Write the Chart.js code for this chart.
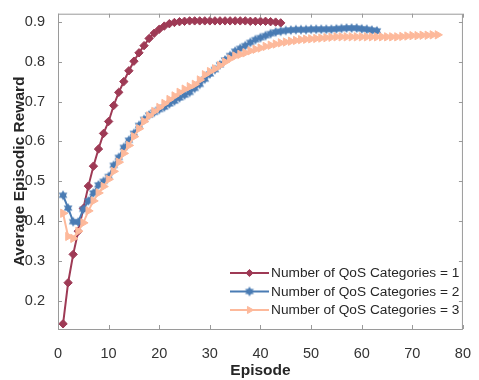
<!DOCTYPE html>
<html>
<head>
<meta charset="utf-8">
<script src="https://cdn.jsdelivr.net/npm/chart.js@4.4.1/dist/chart.umd.min.js"></script>
<style>
  html, body { margin: 0; padding: 0; background: #fff; }
  #wrap { width: 479px; height: 380px; }
</style>
</head>
<body>
<div id="wrap"><canvas id="chart" width="479" height="380"></canvas></div>
<script>
// values
const reward1 = [0.143, 0.246, 0.317, 0.375, 0.432, 0.488, 0.538, 0.581, 0.620, 0.650,
  0.690, 0.723, 0.750, 0.777, 0.801, 0.822, 0.840, 0.858, 0.871, 0.881,
  0.889, 0.895, 0.898, 0.900, 0.901, 0.902, 0.902, 0.902, 0.902, 0.902,
  0.902, 0.902, 0.902, 0.902, 0.902, 0.902, 0.902, 0.901, 0.901, 0.901,
  0.901, 0.900, 0.899, 0.897];
const reward2 = [0.465, 0.433, 0.399, 0.398, 0.430, 0.451, 0.471, 0.491, 0.500, 0.512,
  0.540, 0.560, 0.585, 0.603, 0.620, 0.640, 0.655, 0.666, 0.673, 0.680,
  0.686, 0.694, 0.701, 0.709, 0.716, 0.723, 0.733, 0.743, 0.756, 0.769,
  0.780, 0.792, 0.804, 0.815, 0.826, 0.833, 0.840, 0.848, 0.855, 0.860,
  0.865, 0.870, 0.874, 0.876, 0.878, 0.879, 0.880, 0.880, 0.880, 0.881,
  0.881, 0.881, 0.881, 0.881, 0.882, 0.883, 0.884, 0.884, 0.884, 0.882,
  0.881, 0.879, 0.877];
const reward3 = [0.420, 0.362, 0.357, 0.375, 0.396, 0.426, 0.451, 0.471, 0.487, 0.505,
  0.525, 0.548, 0.570, 0.590, 0.612, 0.632, 0.650, 0.664, 0.675, 0.685,
  0.695, 0.705, 0.714, 0.723, 0.731, 0.737, 0.743, 0.754, 0.767, 0.775,
  0.782, 0.790, 0.799, 0.807, 0.814, 0.818, 0.822, 0.827, 0.831, 0.834,
  0.838, 0.841, 0.844, 0.847, 0.849, 0.851, 0.853, 0.855, 0.856, 0.857,
  0.858, 0.859, 0.860, 0.861, 0.862, 0.862, 0.862, 0.862, 0.862, 0.862,
  0.862, 0.862, 0.862, 0.862, 0.862, 0.862, 0.862, 0.863, 0.864, 0.865,
  0.865, 0.866, 0.866, 0.867, 0.867];
const seriesNames = ['Number of QoS Categories = 1', 'Number of QoS Categories = 2', 'Number of QoS Categories = 3'];
const xTicks = [0, 10, 20, 30, 40, 50, 60, 70, 80];
const yTicks = [0.2, 0.3, 0.4, 0.5, 0.6, 0.7, 0.8, 0.9];

const RED = '#9e3a55';
const BLUE = '#4a7cb4';
const PEACH = '#fdb99b';
const AXIS = '#9a9a9a';
const FONT = "'Liberation Sans', Arial, Helvetica, sans-serif";

// six pointed star marker
function hexagram(color, r) {
  const c = document.createElement('canvas');
  const s = Math.ceil(r * 2 + 2);
  c.width = s; c.height = s;
  const g = c.getContext('2d');
  const cx = s / 2, cy = s / 2;
  g.fillStyle = color;
  for (const off of [-Math.PI / 2, Math.PI / 2]) {
    g.beginPath();
    for (let k = 0; k < 3; k++) {
      const a = off + k * 2 * Math.PI / 3;
      const px = cx + r * Math.cos(a), py = cy + r * Math.sin(a);
      if (k === 0) g.moveTo(px, py); else g.lineTo(px, py);
    }
    g.closePath();
    g.fill();
  }
  return c;
}
const starImg = hexagram(BLUE, 5);

const toPts = arr => arr.map((v, i) => ({ x: i + 1, y: v }));

const boxPlugin = {
  id: 'box',
  afterDraw(chart) {
    const { ctx, chartArea: a, scales } = chart;
    ctx.save();
    ctx.strokeStyle = AXIS;
    ctx.lineWidth = 1;
    ctx.strokeRect(a.left + 0.5, a.top + 0.5, a.right - a.left - 1, a.bottom - a.top);
    ctx.beginPath();
    xTicks.forEach(t => {
      const px = Math.round(scales.x.getPixelForValue(t)) + 0.5;
      ctx.moveTo(px, a.bottom); ctx.lineTo(px, a.bottom - 4);
      ctx.moveTo(px, a.top); ctx.lineTo(px, a.top + 4);
    });
    yTicks.forEach(t => {
      const py = Math.round(scales.y.getPixelForValue(t)) + 0.5;
      ctx.moveTo(a.left, py); ctx.lineTo(a.left + 4, py);
      ctx.moveTo(a.right, py); ctx.lineTo(a.right - 4, py);
    });
    ctx.stroke();

    // legend inside the axes, lower right
    const rows = [273, 291.5, 310];
    chart.data.datasets.forEach((ds, i) => {
      const y = rows[i];
      ctx.strokeStyle = ds.borderColor;
      ctx.lineWidth = 2;
      ctx.beginPath();
      ctx.moveTo(230, y); ctx.lineTo(269, y);
      ctx.stroke();
      ctx.fillStyle = ds.backgroundColor;
      ctx.strokeStyle = ds.borderColor;
      ctx.lineWidth = 1;
      Chart.helpers.drawPoint(ctx, {
        pointStyle: ds.pointStyle, radius: ds.pointRadius * 0.85,
        rotation: ds.pointRotation || 0, borderWidth: 1
      }, 249.5, y);
      ctx.fillStyle = '#262626';
      ctx.font = '13.7px ' + FONT;
      ctx.textBaseline = 'middle';
      ctx.textAlign = 'left';
      ctx.fillText(seriesNames[i], 271, y + 0.5);
    });
    ctx.restore();
  }
};

new Chart(document.getElementById('chart'), {
  type: 'line',
  data: {
    datasets: [
      {
        label: seriesNames[0], data: toPts(reward1), order: 3,
        borderColor: RED, backgroundColor: RED, borderWidth: 2,
        pointStyle: 'rectRot', pointRadius: 4.2, pointBorderWidth: 1,
        pointBackgroundColor: RED, pointBorderColor: RED
      },
      {
        label: seriesNames[1], data: toPts(reward2), order: 2,
        borderColor: BLUE, backgroundColor: BLUE, borderWidth: 2,
        pointStyle: starImg, pointRadius: 5
      },
      {
        label: seriesNames[2], data: toPts(reward3), order: 1,
        borderColor: PEACH, backgroundColor: PEACH, borderWidth: 2,
        pointStyle: 'triangle', pointRotation: 90, pointRadius: 4.8, pointBorderWidth: 1,
        pointBackgroundColor: PEACH, pointBorderColor: PEACH
      }
    ]
  },
  options: {
    responsive: false,
    animation: false,
    layout: { padding: { top: 8, right: 7, left: 0, bottom: 0 } },
    plugins: { legend: { display: false }, tooltip: { enabled: false } },
    elements: { line: { tension: 0 } },
    scales: {
      x: {
        type: 'linear', min: 0, max: 80,
        afterBuildTicks: s => { s.ticks = xTicks.map(v => ({ value: v })); },
        afterFit: s => { s.height = 51; },
        grid: { display: false },
        border: { display: false },
        ticks: { color: '#333', font: { family: FONT, size: 14.5 }, padding: 8, maxRotation: 0 },
        title: { display: true, text: 'Episode', color: '#262626',
          font: { family: FONT, size: 15.5, weight: 'bold' }, padding: { top: 1, bottom: 0 } }
      },
      y: {
        type: 'linear', min: 0.13, max: 0.92,
        afterBuildTicks: s => { s.ticks = yTicks.map(v => ({ value: v })); },
        afterFit: s => { s.width = 58; },
        grid: { display: false },
        border: { display: false },
        ticks: { color: '#333', font: { family: FONT, size: 14.5 }, padding: 5,
          callback: v => v.toFixed(1) },
        title: { display: true, text: 'Average Episodic Reward', color: '#262626',
          font: { family: FONT, size: 15.5, weight: 'bold' }, padding: { top: 10, bottom: 0 } }
      }
    }
  },
  plugins: [boxPlugin]
});
</script>
</body>
</html>
